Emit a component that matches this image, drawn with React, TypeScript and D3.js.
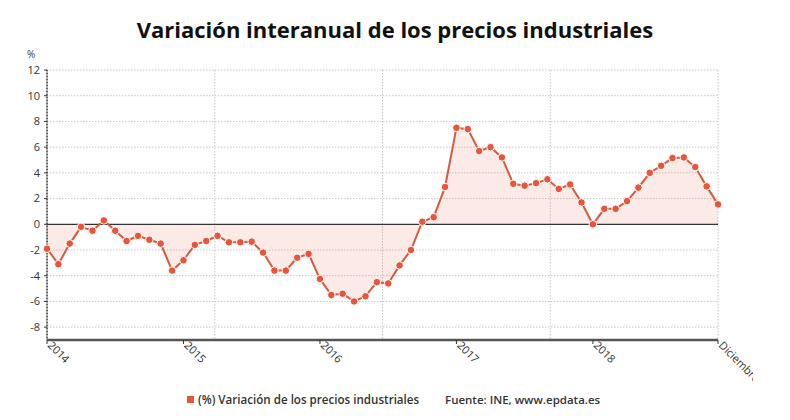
import React, { useEffect, useRef } from "react";
import * as d3 from "d3";

// IPRI interannual change, Jan 2014 - Dec 2018 (one value per month)
const values2014 = [-1.9, -3.1, -1.5, -0.2, -0.5, 0.3, -0.5, -1.3, -0.9, -1.2, -1.5, -3.6];
const values2015 = [-2.8, -1.6, -1.3, -0.9, -1.4, -1.4, -1.35, -2.2, -3.6, -3.6, -2.6, -2.3];
const values2016 = [-4.25, -5.5, -5.4, -6.0, -5.6, -4.5, -4.6, -3.2, -2.0, 0.2, 0.55, 2.9];
const values2017 = [7.5, 7.4, 5.7, 6.0, 5.2, 3.15, 3.0, 3.2, 3.5, 2.75, 3.1, 1.7];
const values2018 = [0.0, 1.2, 1.2, 1.8, 2.85, 4.0, 4.55, 5.15, 5.2, 4.45, 2.95, 1.55];

const yTicks = [-8, -6, -4, -2, 0, 2, 4, 6, 8, 10, 12];
const xLabels = ["2014", "2015", "2016", "2017", "2018", "Diciembre"];
const xLabelIdx = [0, 12, 24, 36, 48, 59];

const title = "Variación interanual de los precios industriales";
const legendLabel = "(%) Variación de los precios industriales";
const sourceLabel = "Fuente: INE, www.epdata.es";

const font = "'Open Sans', sans-serif";
const orange = "#e8553a";

function App() {
  const ref = useRef<SVGSVGElement>(null);

  useEffect(() => {
    const data = [...values2014, ...values2015, ...values2016, ...values2017, ...values2018];
    const svg = d3.select(ref.current);
    svg.selectAll("*").remove();

    const x = d3.scaleLinear().domain([0, data.length - 1]).range([47, 718]);
    const y = d3.scaleLinear().domain([-9, 12]).range([340, 70]);

    svg.append("text")
      .attr("x", 395).attr("y", 38)
      .attr("text-anchor", "middle")
      .attr("font-family", font).attr("font-weight", 700).attr("font-size", 22)
      .attr("fill", "#111")
      .text(title);

    svg.append("text")
      .attr("x", 27).attr("y", 58)
      .attr("font-family", font).attr("font-size", 10).attr("fill", "#444")
      .text("%");

    // horizontal grid + y labels
    const g = svg.append("g");
    yTicks.forEach((t) => {
      if (t !== 0) {
        g.append("line")
          .attr("x1", x(0)).attr("x2", x(59))
          .attr("y1", y(t)).attr("y2", y(t))
          .attr("stroke", "#c8c8c8").attr("stroke-dasharray", "1.5,1.5");
      }
      g.append("text")
        .attr("x", 40).attr("y", y(t)).attr("dy", "0.35em")
        .attr("text-anchor", "end")
        .attr("font-family", font).attr("font-size", 11).attr("fill", "#333")
        .text(t);
      g.append("line")
        .attr("x1", 44).attr("x2", 47).attr("y1", y(t)).attr("y2", y(t))
        .attr("stroke", "#333");
    });

    // vertical grid, four equal bands
    d3.range(1, 5).forEach((k) => {
      const gx = x((59 * k) / 4);
      g.append("line")
        .attr("x1", gx).attr("x2", gx).attr("y1", y(12)).attr("y2", y(-9))
        .attr("stroke", "#c8c8c8").attr("stroke-dasharray", "1.5,1.5");
    });

    // area between series and zero
    svg.append("path")
      .datum(data)
      .attr("fill", orange).attr("fill-opacity", 0.12)
      .attr("d", d3.area<number>().x((d, i) => x(i)).y0(y(0)).y1((d) => y(d)));

    // zero line
    svg.append("line")
      .attr("x1", x(0)).attr("x2", x(59)).attr("y1", y(0)).attr("y2", y(0))
      .attr("stroke", "#333").attr("stroke-width", 1.2);

    // y axis line
    svg.append("line")
      .attr("x1", 47).attr("x2", 47).attr("y1", y(12)).attr("y2", y(-9))
      .attr("stroke", "#333").attr("stroke-width", 1.5).attr("stroke-dasharray", "1,0.5");

    // x axis
    svg.append("line")
      .attr("x1", x(0)).attr("x2", x(59)).attr("y1", y(-9)).attr("y2", y(-9))
      .attr("stroke", "#555").attr("stroke-width", 2.5);

    svg.append("clipPath").attr("id", "lbl-clip")
      .append("rect").attr("x", 0).attr("y", 0).attr("width", 753).attr("height", 420);

    const xl = svg.append("g").attr("clip-path", "url(#lbl-clip)");
    xLabelIdx.forEach((idx, k) => {
      xl.append("line")
        .attr("x1", x(idx)).attr("x2", x(idx)).attr("y1", y(-9)).attr("y2", y(-9) + 4)
        .attr("stroke", "#333");
      xl.append("text")
        .attr("transform", `translate(${x(idx)},${y(-9) + 6}) rotate(45)`)
        .attr("font-family", font).attr("font-size", 11).attr("fill", "#333")
        .text(xLabels[k]);
    });

    // series line + markers
    svg.append("path")
      .datum(data)
      .attr("fill", "none").attr("stroke", "#d65a3c").attr("stroke-width", 2)
      .attr("d", d3.line<number>().x((d, i) => x(i)).y((d) => y(d)));

    svg.append("g").selectAll("circle")
      .data(data).enter().append("circle")
      .attr("cx", (d, i) => x(i)).attr("cy", (d) => y(d)).attr("r", 3.8)
      .attr("fill", orange).attr("stroke", "#fff").attr("stroke-width", 1);

    // legend
    svg.append("rect")
      .attr("x", 187).attr("y", 396).attr("width", 7).attr("height", 7)
      .attr("fill", orange);
    svg.append("text")
      .attr("x", 198).attr("y", 404)
      .attr("font-family", font).attr("font-weight", 600).attr("font-size", 11.6)
      .attr("fill", "#333")
      .text(legendLabel);
    svg.append("text")
      .attr("x", 445).attr("y", 404)
      .attr("font-family", font).attr("font-weight", 600).attr("font-size", 11.5)
      .attr("fill", "#333")
      .text(sourceLabel);
  }, []);

  return (
    <svg ref={ref} width={790} height={420}
      style={{ position: "absolute", left: 0, top: 0, background: "#fff" }} />
  );
}

export default App;
